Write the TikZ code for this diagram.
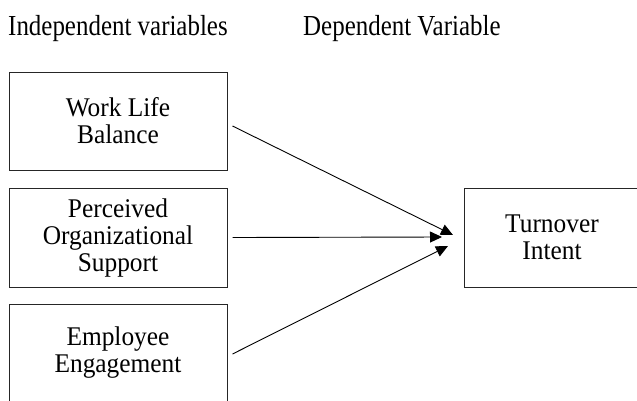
\documentclass[tikz,border=0pt]{standalone}
\usepackage{fontspec}
\setmainfont{Liberation Serif}
\newfontfamily\headfont[FakeStretch=0.86]{Liberation Serif}
\newfontfamily\boxfont[FakeStretch=0.94]{Liberation Serif}
\usetikzlibrary{arrows.meta}
\begin{document}
\begin{tikzpicture}[x=1pt,y=-1pt,
  varbox/.style={draw=black!85,line width=1pt,minimum width=218pt,minimum height=98pt,
    align=center,inner sep=0pt,font=\boxfont\fontsize{27}{27}\selectfont},
  header/.style={anchor=base west,inner sep=0pt,font=\headfont\fontsize{29}{29}\selectfont},
  link/.style={line width=0.9pt,-{Triangle[length=12pt,width=11pt]}}]
\useasboundingbox (0,0) rectangle (637,400);
\node[header] (hind) at (8,35) {Independent variables};
\node[header] (hdep) at (303,35) {Dependent Variable};
\node[varbox] (wlb) at (118,121) {Work Life\\Balance};
\node[varbox,minimum height=99pt] (pos) at (118,237.5) {Perceived\\Organizational\\Support};
\node[varbox] (ee) at (118,353) {Employee\\Engagement};
\node[varbox,minimum width=176pt,minimum height=99pt] (ti) at (552,237.5) {Turnover\\Intent};
\coordinate (t1) at (453,235);
\coordinate (t2) at (442,237);
\coordinate (t3) at (448,246);
\draw[link] ([shift={(5pt,-5pt)}]wlb.east) -- (t1);
\draw[link] ([shift={(5pt,0pt)}]pos.east) -- (t2);
\draw[link] ([shift={(5pt,-1pt)}]ee.east) -- (t3);
\end{tikzpicture}
\end{document}
